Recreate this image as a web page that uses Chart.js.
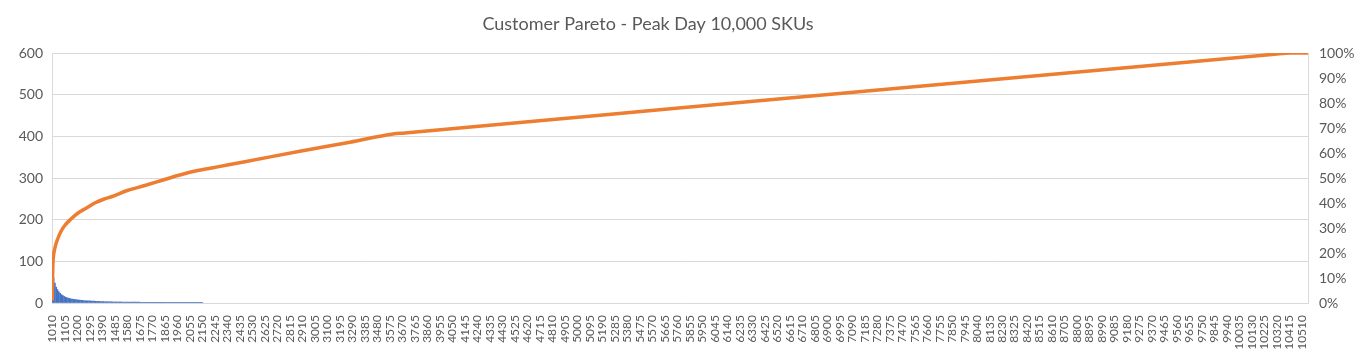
<!DOCTYPE html>
<html>
<head>
<meta charset="utf-8">
<script src="https://cdn.jsdelivr.net/npm/chart.js@4.4.1/dist/chart.umd.min.js"></script>
<style>
  body { margin: 0; background: #fff; }
</style>
</head>
<body>
<canvas id="chart" width="1371" height="360"></canvas>
<script>
// x axis tick labels (every 19th category shown by Excel)
const xTicks = Array.from({ length: 101 }, (_, i) => 1010 + 95 * i);

// bars: customers per SKU, categories every 10 from 1010 to 2150
const barCats = Array.from({ length: 115 }, (_, i) => 1010 + 10 * i);
const barValues = [
  58, 60, 48, 38, 32, 27, 23, 20, 18, 16,
  14, 13, 12, 11, 10, 9.5, 9, 8.5, 8, 7.5,
  7, 7, 6.5, 6, 6, 5.5, 5.5, 5, 5, 5,
  4.5, 4.5, 4.5, 4, 4, 4, 3.5, 3.5, 3.5, 3.5,
  3, 3, 3, 3, 3, 3, 2.5, 2.5, 2.5, 2.5,
  2.5, 2.5, 2.5, 2.5, 2, 2, 2, 2, 2, 2,
  2, 2, 2, 2, 2, 2, 2, 1.5, 1.5, 1.5,
  1.5, 1.5, 1.5, 1.5, 1.5, 1.5, 1.5, 1.5, 1.5, 1.5,
  1.5, 1.5, 1.5, 1.5, 1.5, 1, 1, 1, 1, 1,
  1, 1, 1, 1, 1, 1, 1, 1, 1, 1,
  1, 1, 1, 1, 1, 1, 1, 1, 1, 1,
  1, 1, 1, 1, 1
];

// cumulative % line
const lineCats = [1010, 1012, 1014, 1017, 1030, 1054, 1080, 1105, 1150, 1206, 1270, 1333,
  1400, 1460, 1580, 1714, 1840, 1965, 2090, 2221, 2350, 2474, 2892, 3273, 3600, 3690,
  5174, 7456, 8978, 10300, 10420, 10555];
const lineValues = [1, 9, 14, 17.5, 22, 26, 29, 31, 33.5, 36, 38, 40,
  41.5, 42.5, 45, 47, 49, 51, 52.7, 54, 55.3, 56.5, 60.7, 64.3, 67.6, 68,
  75.1, 86, 93.2, 99.5, 100, 100];

const title = 'Customer Pareto - Peak Day 10,000 SKUs';
const font = 'Lato, "Open Sans", sans-serif';
const textColor = '#595959';
const gridColor = '#d9d9d9';

// title drawn by hand so it can sit where Excel put it
const titlePlugin = {
  id: 'titleText',
  afterDraw(chart) {
    const c = chart.ctx;
    c.save();
    c.font = '18px ' + font;
    c.fillStyle = textColor;
    c.textAlign = 'center';
    c.textBaseline = 'middle';
    c.fillText(title, 648, 24);
    c.restore();
  }
};

const ctx = document.getElementById('chart').getContext('2d');
new Chart(ctx, {
  type: 'bar',
  data: {
    datasets: [
      {
        type: 'line',
        label: 'Cumulative %',
        data: lineCats.map((x, i) => ({ x: x, y: lineValues[i] })),
        borderColor: '#ED7D31',
        borderWidth: 3.5,
        pointRadius: 0,
        cubicInterpolationMode: 'monotone',
        yAxisID: 'y2',
        order: 1
      },
      {
        type: 'bar',
        label: 'Customers',
        data: barCats.map((x, i) => ({ x: x, y: barValues[i] })),
        backgroundColor: '#4472C4',
        barThickness: 1,
        yAxisID: 'y',
        order: 2
      }
    ]
  },
  options: {
    responsive: false,
    animation: false,
    layout: { padding: { top: 53 } },
    plugins: {
      legend: { display: false },
      tooltip: { enabled: false },
      title: { display: false }
    },
    scales: {
      x: {
        type: 'linear',
        min: 1008,
        max: 10555,
        offset: false,
        afterBuildTicks: s => { s.ticks = xTicks.map(v => ({ value: v })); },
        afterFit: s => { s.height = 57; },
        grid: { display: false },
        border: { color: gridColor },
        ticks: {
          autoSkip: false,
          minRotation: 90,
          maxRotation: 90,
          padding: 4,
          color: textColor,
          font: { family: font, size: 12 },
          callback: v => String(v)
        }
      },
      y: {
        position: 'left',
        min: 0,
        max: 600,
        afterFit: s => { s.width = 52; },
        grid: { color: gridColor, drawTicks: false },
        border: { color: gridColor },
        ticks: {
          stepSize: 100,
          padding: 9,
          color: textColor,
          font: { family: font, size: 14 }
        }
      },
      y2: {
        position: 'right',
        min: 0,
        max: 100,
        afterFit: s => { s.width = 63; },
        grid: { display: false, drawTicks: false },
        border: { color: gridColor },
        ticks: {
          stepSize: 10,
          padding: 11,
          color: textColor,
          font: { family: font, size: 14 },
          callback: v => v + '%'
        }
      }
    }
  },
  plugins: [titlePlugin]
});
</script>
</body>
</html>
